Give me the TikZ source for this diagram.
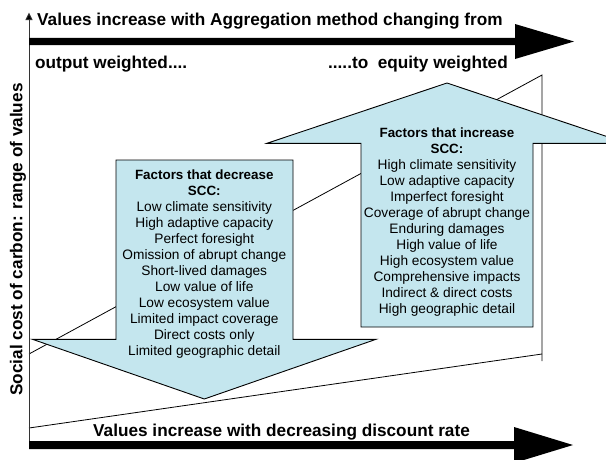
\documentclass[tikz,border=0pt]{standalone}
\usepackage{fontspec}
\setmainfont{Liberation Sans}
\usetikzlibrary{arrows.meta}
\definecolor{boxblue}{RGB}{196,230,238}
\begin{document}
\begin{tikzpicture}[x=1pt,y=-1pt,
  bigtext/.style={font=\fontsize{17.2}{20}\selectfont\bfseries, inner sep=0pt},
  boxline/.style={font=\fontsize{13.7}{16}\selectfont, inner sep=0pt, anchor=base},
  boxhead/.style={font=\fontsize{13.4}{16}\selectfont\bfseries, inner sep=0pt, anchor=base},
  thinline/.style={draw=black, line width=0.8pt},
  bigarrow/.style={fill=black},
  blockarrow/.style={draw=black, line width=0.9pt, fill=boxblue, line join=miter}]
\useasboundingbox (0,0) rectangle (606,459);
\clip (0,0) rectangle (606,459);
\fill[white] (0,0) rectangle (606,459);

% range wedge
\coordinate (wl1) at (29,354);
\coordinate (wr1) at (542,75);
\coordinate (wl2) at (29,428);
\coordinate (wr2) at (542,354);
\coordinate (wr3) at (542,361);
\draw[thinline] (wl1) -- (wr1) -- (wr3);
\draw[thinline] (wl2) -- (wr2);

% vertical axis
\coordinate (ax0) at (29,445);
\coordinate (ax1) at (29,12.5);
\draw[line width=0.9pt, black!80, -{Triangle[width=7pt,length=7.5pt,fill=black]}] (ax0) -- (ax1);

% big black arrows
\fill[bigarrow] (29,37.8) -- (515,37.8) -- (515,24) -- (574,41.5) -- (515,59) -- (515,45.2) -- (29,45.2) -- cycle;
\fill[bigarrow] (29,441) -- (514,441) -- (514,427) -- (573,445) -- (514,463) -- (514,449) -- (29,449) -- cycle;

% block arrows
\draw[blockarrow] (116,160) -- (293,160) -- (293,339.3) -- (376,339.3) -- (204.3,399) -- (32.5,339.3) -- (116,339.3) -- cycle;
\draw[blockarrow] (361,327) -- (533,327) -- (533,143.3) -- (627,143.3) -- (447,83) -- (267,143.3) -- (361,143.3) -- cycle;

% labels
\node[bigtext, anchor=base west] (title) at (37,25) {Values increase with Aggregation method changing from};
\node[bigtext, anchor=base west] (ow) at (35,68.5) {output weighted....};
\node[bigtext, anchor=base east] (ew) at (508,68.5) {.....to\ \ equity weighted};
\node[bigtext, anchor=base west] (dr) at (93,436) {Values increase with decreasing discount rate};
\node[bigtext, anchor=base, rotate=90] (yl) at (22.5,239.5) {Social cost of carbon: range of values};

% down arrow text
\node[boxhead] (dh1) at (204.3,179.5) {Factors that decrease};
\node[boxhead] (dh2) at (204.3,195.5) {SCC:};
\foreach \t [count=\i from 0] in {Low climate sensitivity, High adaptive capacity, Perfect foresight, Omission of abrupt change, Short-lived damages, Low value of life, Low ecosystem value, Limited impact coverage, Direct costs only, Limited geographic detail}
  \node[boxline] (dl\i) at (204.3,{211.4+15.97*\i}) {\t};

% up arrow text
\node[boxhead] (uh1) at (447,137.8) {Factors that increase};
\node[boxhead] (uh2) at (447,153.8) {SCC:};
\foreach \t [count=\i from 0] in {High climate sensitivity, Low adaptive capacity, Imperfect foresight, Coverage of abrupt change, Enduring damages, High value of life, High ecosystem value, Comprehensive impacts, Indirect \& direct costs, High geographic detail}
  \node[boxline] (ul\i) at (447,{169.7+15.97*\i}) {\t};
\end{tikzpicture}
\end{document}
